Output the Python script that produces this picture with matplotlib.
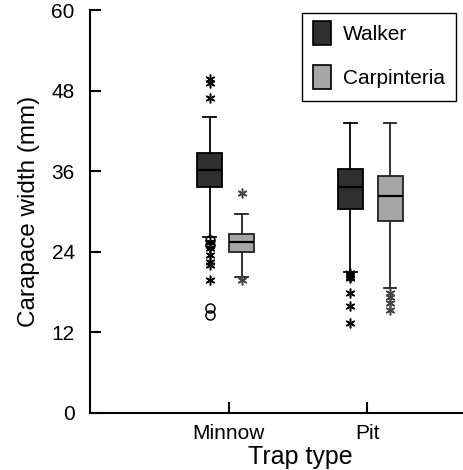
import matplotlib
matplotlib.use("Agg")
import matplotlib.pyplot as plt
from matplotlib.patches import Rectangle

plt.rcParams['font.family'] = ['Liberation Sans', 'DejaVu Sans']

# categories and groups
traps = ['Minnow', 'Pit']
sites = ['Walker', 'Carpinteria']
site_colors = ['#2f2f2f', '#a6a6a6']

# box stats (mm): whislo, q1, med, q3, whishi
walker_stats = [[26.2, 33.6, 36.2, 38.75, 44.1],
                [21.0, 30.3, 33.7, 36.4, 43.2]]
carp_stats = [[20.2, 24.0, 25.5, 26.65, 29.7],
              [18.6, 28.6, 32.3, 35.3, 43.2]]

# outliers (stars) and far outliers (circles)
walker_fliers = [[49.8, 49.2, 46.9, 25.4, 24.5, 23.5, 22.5, 22.0, 19.8],
                 [20.9, 20.6, 20.3, 20.1, 17.8, 16.0, 13.4]]
walker_far = [[25.8, 25.0, 15.6, 14.6], []]
carp_fliers = [[32.8, 19.8], [17.8, 17.3, 16.4, 15.3]]

walker_pos = [0.863, 1.878]
carp_pos = [1.094, 2.165]
box_w = 0.18

W, H = 463, 470
fig = plt.figure(figsize=(W / 100, H / 100), dpi=100)
ax = fig.add_axes([90 / W, 57 / H, 373 / W, 403 / H])


def make_stats(rows):
    out = []
    for r in rows:
        out.append(dict(whislo=r[0], q1=r[1], med=r[2], q3=r[3], whishi=r[4], fliers=[]))
    return out


def draw(stats, pos, face, edge, fliers, far, star_col):
    ax.bxp(make_stats(stats), positions=pos, widths=box_w, patch_artist=True,
           showfliers=False, showcaps=True,
           boxprops=dict(facecolor=face, edgecolor=edge, linewidth=1.3),
           medianprops=dict(color='black', linewidth=1.6),
           whiskerprops=dict(color=edge, linewidth=1.3),
           capprops=dict(color=edge, linewidth=1.3))
    for p, f in zip(pos, fliers):
        ax.plot([p] * len(f), f, linestyle='none', marker=(6, 2, 0),
                markersize=7, color=star_col, markeredgewidth=1.1)
    for p, f in zip(pos, far):
        ax.plot([p] * len(f), f, linestyle='none', marker='o',
                markersize=6.5, markerfacecolor='none', markeredgecolor='black',
                markeredgewidth=1.1)


draw(walker_stats, walker_pos, site_colors[0], 'black', walker_fliers, walker_far, 'black')
draw(carp_stats, carp_pos, site_colors[1], '#222222', carp_fliers, [[], []], '#444444')

ax.set_xlim(0, 2.69)
ax.set_ylim(0, 60)
ax.set_yticks([0, 12, 24, 36, 48, 60])
ax.set_xticks([1, 2])
ax.set_xticklabels(traps)
ax.tick_params(axis='both', direction='in', length=8, width=1.5, labelsize=15)
ax.tick_params(axis='x', pad=8)
ax.tick_params(axis='y', pad=11)
for s in ['top', 'right']:
    ax.spines[s].set_visible(False)
for s in ['left', 'bottom']:
    ax.spines[s].set_linewidth(1.5)

ax.set_xlabel('Trap type', fontsize=18)
ax.xaxis.set_label_coords(0.563, -0.08)
ax.set_ylabel('Carapace width (mm)', fontsize=17.5, labelpad=8)

# legend drawn by hand in pixel positions (from top-left)
def fx(x):
    return x / W


def fy(y):
    return 1 - y / H


fig.add_artist(Rectangle((fx(302), fy(101)), fx(456) - fx(302), fy(13) - fy(101),
                         transform=fig.transFigure, facecolor='white',
                         edgecolor='black', linewidth=1.0))
for i, (lab, col) in enumerate(zip(sites, site_colors)):
    top = 21 + i * 43.5
    fig.add_artist(Rectangle((fx(313), fy(top + 24)), 18 / W, 24 / H,
                             transform=fig.transFigure, facecolor=col,
                             edgecolor='black', linewidth=1.2))
    fig.text(fx(343), fy(top + 12), lab, fontsize=15, ha='left', va='center_baseline')

fig.savefig('out.png', dpi=100)
